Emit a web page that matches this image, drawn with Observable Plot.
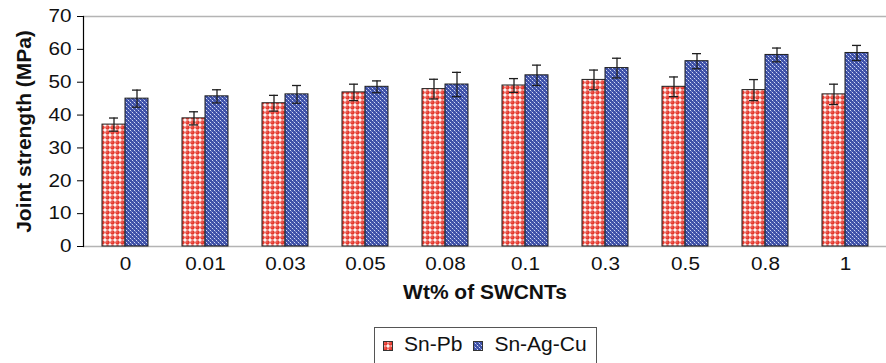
<!DOCTYPE html>
<html>
<head>
<meta charset="utf-8">
<script src="https://cdn.jsdelivr.net/npm/d3@7"></script>
<script src="https://cdn.jsdelivr.net/npm/@observablehq/plot@0.6"></script>
<style>
  html, body { margin: 0; padding: 0; background: #fff; overflow: hidden; }
  #wrap { position: relative; width: 886px; height: 363px; font-family: "Liberation Sans", Arial, sans-serif; }
  #legend { position: absolute; left: 374px; top: 327px; width: 223px; height: 44px; border: 1px solid #555; box-sizing: border-box;
            font-size: 21px; line-height: 24px; color: #111; display: flex; flex-wrap: nowrap; align-items: flex-start; padding-top: 4px; padding-left: 8px; white-space: nowrap; }
  #legend .item { display: flex; align-items: center; flex-shrink: 0; margin-right: 11px; white-space: nowrap; }
  #legend svg { flex-shrink: 0; margin-right: 11px; margin-top: 4px; }
</style>
</head>
<body>
<div id="wrap"><div id="chart"></div><div id="legend"></div></div>
<script>
const categories = ["0", "0.01", "0.03", "0.05", "0.08", "0.1", "0.3", "0.5", "0.8", "1"];
const seriesNames = ["Sn-Pb", "Sn-Ag-Cu"];
const snPb = [37.1, 39.0, 43.6, 46.9, 47.9, 49.0, 50.7, 48.6, 47.6, 46.3];
const snPbErr = [2.0, 2.0, 2.4, 2.5, 3.0, 2.1, 3.0, 3.0, 3.2, 3.1];
const snAgCu = [45.0, 45.7, 46.3, 48.6, 49.3, 52.1, 54.3, 56.4, 58.3, 58.9];
const snAgCuErr = [2.6, 2.0, 2.7, 1.8, 3.7, 3.1, 3.0, 2.3, 2.1, 2.3];
const yTicks = [0, 10, 20, 30, 40, 50, 60, 70];
const xTitle = "Wt% of SWCNTs";
const yTitle = "Joint strength (MPa)";

const red = categories.map((c, i) => ({cat: c, series: seriesNames[0], value: snPb[i], err: snPbErr[i]}));
const blue = categories.map((c, i) => ({cat: c, series: seriesNames[1], value: snAgCu[i], err: snAgCuErr[i]}));

const half = 23;   // half of the band (one bar)
const cap = 7;     // cap inset inside a bar
const ink = "#1e1e1e";

function errMarks(data, side) {
  const dx = side * half / 2;
  const insL = side < 0 ? cap : half + cap;
  const insR = side < 0 ? half + cap : cap;
  return [
    Plot.ruleX(data, {x: "cat", y1: d => d.value - d.err, y2: d => d.value + d.err, dx, stroke: ink, strokeWidth: 1.3}),
    Plot.tickY(data, {x: "cat", y: d => d.value + d.err, insetLeft: insL, insetRight: insR, stroke: ink, strokeWidth: 1.3}),
    Plot.tickY(data, {x: "cat", y: d => d.value - d.err, insetLeft: insL, insetRight: insR, stroke: ink, strokeWidth: 1.3})
  ];
}

const chart = Plot.plot({
  width: 886,
  height: 320,
  marginLeft: 83,
  marginRight: 0,
  marginTop: 16,
  marginBottom: 74,
  x: {domain: categories, paddingInner: 0.428, paddingOuter: 0.2055, label: null},
  y: {domain: [0, 70], label: null},
  style: {fontFamily: "'Liberation Sans', Arial, sans-serif", fontSize: "18px", color: "#111", background: "white", overflow: "visible"},
  marks: [
    Plot.ruleY([0, 70], {stroke: "#b4b4b4", strokeWidth: 1.6}),
    Plot.barY(red, {x: "cat", y: "value", fill: "url(#patRed)", stroke: ink, strokeWidth: 1, insetRight: half}),
    Plot.barY(blue, {x: "cat", y: "value", fill: "url(#patBlue)", stroke: ink, strokeWidth: 1, insetLeft: half}),
    ...errMarks(red, -1),
    ...errMarks(blue, 1),
    Plot.frame({anchor: "left", stroke: "#000", strokeWidth: 1.2}),
    Plot.axisY({ticks: yTicks, tickSize: 6, tickPadding: 6, fontSize: 18, label: null, stroke: "#000"}),
    Plot.axisX({tickSize: 0, tickPadding: 11, fontSize: 18, label: null}),
    Plot.text([yTitle], {frameAnchor: "left", rotate: -90, dx: -59, textAnchor: "middle", lineAnchor: "middle", fontWeight: "bold", fontSize: 19.5, fill: "#111"}),
    Plot.text([xTitle], {frameAnchor: "bottom", dy: 46.5, textAnchor: "middle", lineAnchor: "middle", fontWeight: "bold", fontSize: 19.5, fill: "#111"})
  ]
});

const defs = `
<defs>
  <pattern id="patRed" patternUnits="userSpaceOnUse" width="5" height="5">
    <rect width="5" height="5" fill="#ffffff"/>
    <circle cx="2.5" cy="2.5" r="2.2" fill="#e5382d"/>
    <circle cx="1.9" cy="1.9" r="0.6" fill="#f6a097"/>
  </pattern>
  <pattern id="patBlue" patternUnits="userSpaceOnUse" width="4" height="4">
    <rect width="4" height="4" fill="#3e51a8"/>
    <rect x="0" y="0" width="1" height="1" fill="#d3daf5"/>
    <rect x="2" y="2" width="1" height="1" fill="#d3daf5"/>
    <rect x="1" y="1" width="1" height="1" fill="#7483c8"/>
    <rect x="3" y="3" width="1" height="1" fill="#7483c8"/>
  </pattern>
</defs>`;
chart.insertAdjacentHTML("afterbegin", defs);
document.getElementById("chart").appendChild(chart);

// widen glyphs slightly, as in the reference typeface
chart.querySelectorAll("text").forEach(t => {
  const bold = t.closest("[font-weight='bold']") || t.getAttribute("font-weight") === "bold";
  const k = bold ? 1.075 : 1.15;
  const len = t.getComputedTextLength();
  if (len > 0) {
    t.setAttribute("textLength", (len * k).toFixed(2));
    t.setAttribute("lengthAdjust", "spacingAndGlyphs");
  }
});

const legend = document.getElementById("legend");
[["Sn-Pb", "patRed"], ["Sn-Ag-Cu", "patBlue"]].forEach(([name, pat]) => {
  const item = document.createElement("div");
  item.className = "item";
  item.innerHTML = `<svg width="10" height="10"><rect x="0.5" y="0.5" width="9" height="9" fill="url(#${pat})" stroke="#333" stroke-width="1"/></svg><span>${name}</span>`;
  legend.appendChild(item);
});
</script>
</body>
</html>
